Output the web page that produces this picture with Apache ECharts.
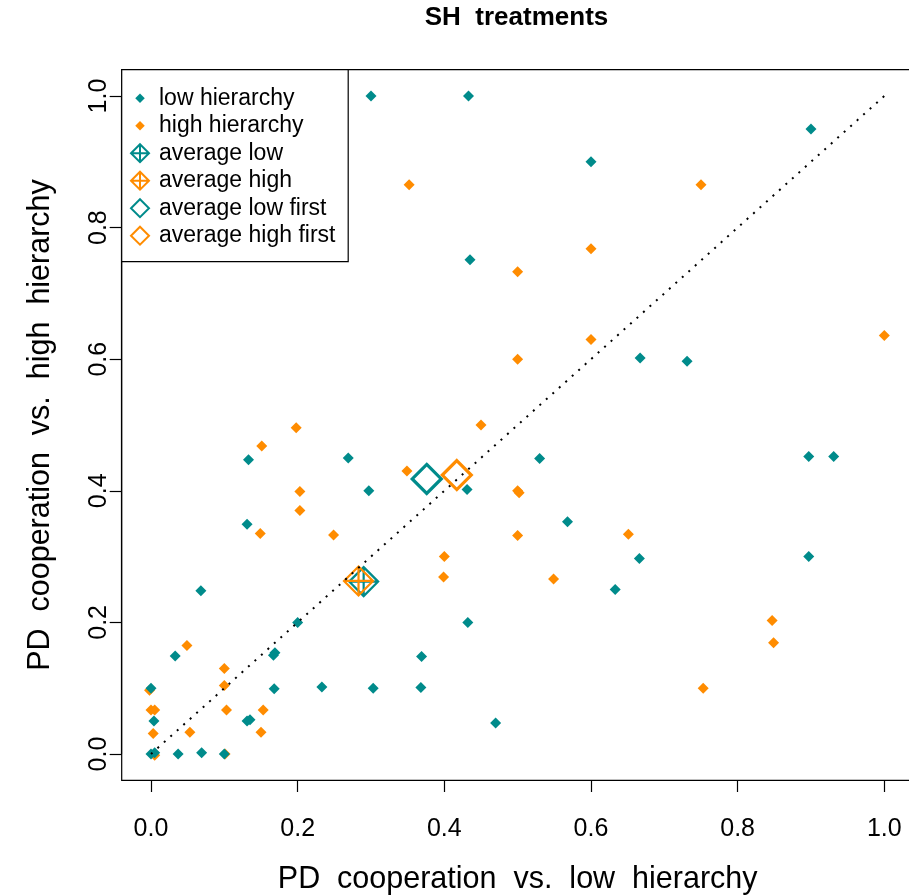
<!DOCTYPE html>
<html>
<head>
<meta charset="utf-8">
<title>SH treatments</title>
<script src="https://cdn.jsdelivr.net/npm/echarts@6/dist/echarts.min.js"></script>
<style>
	html, body { margin: 0; padding: 0; background: #fff; }
	#main { width: 909px; height: 895px; }
</style>
</head>
<body>
<div id="main"></div>
<script>
// 数据: [PD cooperation vs. low hierarchy, PD cooperation vs. high hierarchy]
var lowHierarchy = [
	[0.3, 1.0], [0.433, 1.0], [0.9, 0.95], [0.6, 0.9], [0.435, 0.751], [0.667, 0.602], [0.731, 0.597],
	[0.133, 0.447], [0.269, 0.45], [0.53, 0.449], [0.897, 0.452], [0.931, 0.452],
	[0.297, 0.4], [0.431, 0.402], [0.131, 0.349], [0.568, 0.353], [0.666, 0.297], [0.897, 0.3],
	[0.633, 0.25], [0.068, 0.248], [0.2, 0.2], [0.432, 0.2], [0.033, 0.149], [0.167, 0.15], [0.169, 0.154],
	[0.369, 0.148], [0.168, 0.099], [0.233, 0.102], [0.303, 0.1], [0.368, 0.101], [0.47, 0.047],
	[0, 0.1], [0.004, 0.05], [0.131, 0.05], [0.135, 0.052], [0, 0], [0.005, 0.002], [0.037, 0], [0.069, 0.002], [0.1, 0]
]
var highHierarchy = [
	[0.352, 0.865], [0.75, 0.865], [0.6, 0.768], [0.5, 0.733], [1.0, 0.636], [0.6, 0.63], [0.5, 0.6],
	[0.198, 0.496], [0.151, 0.468], [0.45, 0.5], [0.349, 0.43], [0.203, 0.399], [0.5, 0.4], [0.502, 0.397],
	[0.203, 0.37], [0.149, 0.335], [0.249, 0.333], [0.5, 0.332], [0.651, 0.334], [0.4, 0.3], [0.399, 0.269],
	[0.549, 0.266], [0.847, 0.203], [0.849, 0.169], [0.049, 0.165], [0.1, 0.13], [0.1, 0.104], [0.753, 0.1],
	[-0.002, 0.097], [0, 0.067], [0.005, 0.067], [0.103, 0.067], [0.153, 0.067], [0.003, 0.031], [0.053, 0.033],
	[0.15, 0.033], [0.005, -0.002], [0.101, 0]
]
var averageLow = [[0.290, 0.262]]
var averageHigh = [[0.283, 0.263]]
var averageLowFirst = [[0.376, 0.418]]
var averageHighFirst = [[0.417, 0.424]]
var diagonal = [[0, 0], [1, 1]]
var axisTicks = [0, 0.2, 0.4, 0.6, 0.8, 1.0]

var teal = '#008B8B'
var orange = '#FF8C00'
var font = '"Liberation Sans", Arial, Helvetica, sans-serif'

// 图例符号
var iconSmall = 'path://M-1.9,-1.9M1.9,1.9M0,-1L1,0L0,1L-1,0Z'
var iconPlus = 'path://M0,-1L1,0L0,1L-1,0ZM0,-1L0,1M-1,0L1,0'
var iconHollow = 'path://M0,-1L1,0L0,1L-1,0Z'

// 图例框宽度按文字宽度计算
var ctx = document.createElement('canvas').getContext('2d')
ctx.font = '23px ' + font
var legendTextW = ctx.measureText('average high first').width
var legendPadRight = Math.max(4, 230.5 - 8.3 - 33 - legendTextW)

var chart = echarts.init(document.getElementById('main'), null, { renderer: 'canvas' })

var axisCommon = {
	type: 'value',
	min: axisTicks[0],
	max: axisTicks[axisTicks.length - 1],
	interval: 0.2,
	splitLine: { show: false },
	axisLine: { show: true, onZero: false, lineStyle: { color: '#000', width: 1.2 } },
	axisTick: { show: true, inside: false, length: 12, lineStyle: { color: '#000', width: 1.2 } },
	nameLocation: 'middle',
	nameTextStyle: { fontFamily: font, fontSize: 30.5, color: '#000' }
}

var option = {
	animation: false,
	backgroundColor: '#fff',
	title: {
		text: 'SH  treatments',
		left: 516.5,
		top: 5,
		padding: 0,
		textAlign: 'center',
		textStyle: { fontFamily: font, fontSize: 26, fontWeight: 'bold', color: '#000' }
	},
	legend: {
		orient: 'vertical',
		left: 121.7,
		top: 69.7,
		itemWidth: 28,
		itemHeight: 18,
		itemGap: 4.5,
		padding: [17, legendPadRight, 14.4, 8.3],
		borderColor: '#000',
		borderWidth: 1.2,
		backgroundColor: '#fff',
		selectedMode: false,
		textStyle: { fontFamily: font, fontSize: 23, color: '#000' },
		data: [
			{ name: 'low hierarchy', icon: iconSmall, itemStyle: { color: teal, borderWidth: 0, opacity: 1 } },
			{ name: 'high hierarchy', icon: iconSmall, itemStyle: { color: orange, borderWidth: 0, opacity: 1 } },
			{ name: 'average low', icon: iconPlus, itemStyle: { color: 'rgba(0,0,0,0)', borderColor: teal, borderWidth: 2, opacity: 1 } },
			{ name: 'average high', icon: iconPlus, itemStyle: { color: 'rgba(0,0,0,0)', borderColor: orange, borderWidth: 2, opacity: 1 } },
			{ name: 'average low first', icon: iconHollow, itemStyle: { color: 'rgba(0,0,0,0)', borderColor: teal, borderWidth: 2, opacity: 1 } },
			{ name: 'average high first', icon: iconHollow, itemStyle: { color: 'rgba(0,0,0,0)', borderColor: orange, borderWidth: 2, opacity: 1 } }
		]
	},
	grid: [
		// 数据区域 (0..1)
		{ left: 151, top: 96, width: 733.3, height: 658, outerBoundsMode: 'none', containLabel: false },
		// 外框 (R 默认扩展 4%)
		{ left: 121.7, top: 69.7, width: 791.9, height: 710.6, outerBoundsMode: 'none', containLabel: false, show: true, borderColor: '#000', borderWidth: 1.2, backgroundColor: 'rgba(0,0,0,0)' }
	],
	xAxis: [
		Object.assign({}, axisCommon, {
			gridIndex: 0,
			position: 'bottom',
			offset: 26,
			name: 'PD  cooperation  vs.  low  hierarchy',
			nameGap: 84,
			axisLabel: { margin: 37, fontFamily: font, fontSize: 25, color: '#000', formatter: function(v) { return v.toFixed(1) } }
		}),
		{ type: 'value', gridIndex: 1, show: false, min: 0, max: 1 }
	],
	yAxis: [
		Object.assign({}, axisCommon, {
			gridIndex: 0,
			position: 'left',
			offset: 29.3,
			name: 'PD  cooperation  vs.  high  hierarchy',
			nameGap: 66,
			axisLabel: { margin: 10, rotate: 90, fontFamily: font, fontSize: 25, color: '#000', formatter: function(v) { return v.toFixed(1) } }
		}),
		{ type: 'value', gridIndex: 1, show: false, min: 0, max: 1 }
	],
	series: [
		{
			name: 'diagonal',
			type: 'line',
			data: diagonal,
			symbol: 'none',
			silent: true,
			lineStyle: { color: '#000', width: 2, type: [2, 6.7] }
		},
		{
			name: 'high hierarchy',
			type: 'scatter',
			data: highHierarchy,
			symbol: 'diamond',
			symbolSize: 11,
			clip: false,
			itemStyle: { color: orange, opacity: 1 }
		},
		{
			name: 'low hierarchy',
			type: 'scatter',
			data: lowHierarchy,
			symbol: 'diamond',
			symbolSize: 11,
			clip: false,
			itemStyle: { color: teal, opacity: 1 }
		},
		{
			name: 'average low',
			type: 'scatter',
			data: averageLow,
			symbol: iconPlus,
			symbolSize: 29,
			itemStyle: { color: 'rgba(0,0,0,0)', borderColor: teal, borderWidth: 2.2, opacity: 1 }
		},
		{
			name: 'average high',
			type: 'scatter',
			data: averageHigh,
			symbol: iconPlus,
			symbolSize: 29,
			itemStyle: { color: 'rgba(0,0,0,0)', borderColor: orange, borderWidth: 2.2, opacity: 1 }
		},
		{
			name: 'average low first',
			type: 'scatter',
			data: averageLowFirst,
			symbol: iconHollow,
			symbolSize: 29,
			itemStyle: { color: 'rgba(0,0,0,0)', borderColor: teal, borderWidth: 3.2, opacity: 1 }
		},
		{
			name: 'average high first',
			type: 'scatter',
			data: averageHighFirst,
			symbol: iconHollow,
			symbolSize: 29,
			itemStyle: { color: 'rgba(0,0,0,0)', borderColor: orange, borderWidth: 3.2, opacity: 1 }
		}
	]
}

chart.setOption(option)
</script>
</body>
</html>
